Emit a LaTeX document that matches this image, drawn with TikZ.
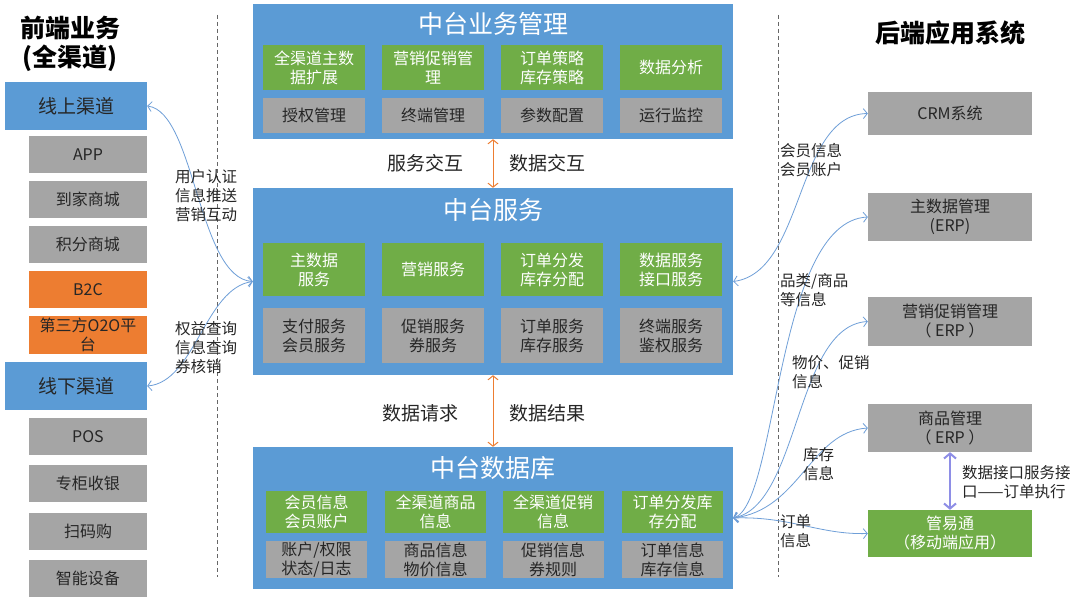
\documentclass[tikz,border=0pt]{standalone}
\usepackage{fontspec}
\setmainfont{Noto Sans CJK SC}
\usetikzlibrary{arrows.meta}
\definecolor{pblue}{HTML}{5B9BD5}
\definecolor{pgreen}{HTML}{70AD47}
\definecolor{pgray}{HTML}{A5A5A5}
\definecolor{porange}{HTML}{ED7D31}
\definecolor{ptext}{HTML}{262626}
\definecolor{pcurve}{HTML}{6F9FD8}
\definecolor{ppurple}{HTML}{8E8EE6}
\begin{document}
\begin{tikzpicture}[x=1pt,y=-1pt,
  >={Straight Barb[length=4pt,width=10pt]},
  box/.style={inner sep=0pt, align=center, font=\fontsize{16}{19}\selectfont},
  gbox/.style={box, fill=pgreen, text=white, minimum width=102, minimum height=#1},
  ybox/.style={box, fill=pgray, text=ptext, minimum width=102, minimum height=#1},
  lbox/.style={box, fill=pgray, text=ptext, minimum width=118, minimum height=37},
  obox/.style={box, fill=porange, text=ptext, minimum width=118, minimum height=37},
  chan/.style={box, fill=pblue, text=ptext, minimum width=142, minimum height=48, font=\fontsize{19}{22}\selectfont},
  rbox/.style={box, fill=pgray, text=ptext, minimum width=164, minimum height=#1},
  panel/.style={fill=pblue, inner sep=0pt, minimum width=480, minimum height=#1},
  ptitle/.style={text=white, inner sep=0pt, font=\fontsize{25}{28}\selectfont},
  htitle/.style={text=black, inner sep=0pt, align=center, font=\fontsize{25}{29}\selectfont\bfseries},
  clabel/.style={text=ptext, inner sep=0pt, align=left, anchor=west, font=\fontsize{15.5}{19}\selectfont},
  alabel/.style={text=ptext, inner sep=0pt, font=\fontsize{19}{22}\selectfont},
  bcurve/.style={draw=pcurve, line width=0.8pt, <->},
  oarrow/.style={draw=porange, line width=1pt, <->},
  parrow/.style={draw=ppurple, line width=2pt, <->, >={Straight Barb[length=5pt,width=12pt]}},
  divider/.style={draw=gray!80!black, line width=0.6pt, dash pattern=on 4pt off 3pt}
]
\useasboundingbox (0,0) rectangle (1080,602);
\fill[white] (0,0) rectangle (1080,602);

% dividers
\draw[divider] (217,15) -- (217,577);
\draw[divider] (778,15) -- (778,577);

% left column
\node[htitle] (lt) at (70,44) {前端业务\\(全渠道)};
\node[chan] (on) at (76,106) {线上渠道};
\node[lbox] (app) at (88,154.5) {APP};
\node[lbox] (djsc) at (88,199.5) {到家商城};
\node[lbox] (jfsc) at (88,244.5) {积分商城};
\node[obox] (b2c) at (88,289.5) {B2C};
\node[obox, minimum height=38] (o2o) at (88,335) {第三方O2O平\\台};
\node[chan] (off) at (76,386) {线下渠道};
\node[lbox] (pos) at (88,436.5) {POS};
\node[lbox] (zgsy) at (88,483.5) {专柜收银};
\node[lbox] (smg) at (88,531) {扫码购};
\node[lbox] (znsb) at (88,578.5) {智能设备};

% panel 1
\node[panel=135] (p1) at (493,71.5) {};
\node[ptitle] (t1) at (493,24) {中台业务管理};
\node[gbox=45] (a1) at (314,67.5) {全渠道主数\\据扩展};
\node[gbox=45] (a2) at (433,67.5) {营销促销管\\理};
\node[gbox=45] (a3) at (552,67.5) {订单策略\\库存策略};
\node[gbox=45] (a4) at (671,67.5) {数据分析};
\node[ybox=35] (b1) at (314,115.5) {授权管理};
\node[ybox=35] (b2) at (433,115.5) {终端管理};
\node[ybox=35] (b3) at (552,115.5) {参数配置};
\node[ybox=35] (b4) at (671,115.5) {运行监控};

% panel 2
\node[panel=187] (p2) at (493,281.5) {};
\node[ptitle] (t2) at (493,210) {中台服务};
\node[gbox=53] (c1) at (314,269.5) {主数据\\服务};
\node[gbox=53] (c2) at (433,269.5) {营销服务};
\node[gbox=53] (c3) at (552,269.5) {订单分发\\库存分配};
\node[gbox=53] (c4) at (671,269.5) {数据服务\\接口服务};
\node[ybox=55] (d1) at (314,335.5) {支付服务\\会员服务};
\node[ybox=55] (d2) at (433,335.5) {促销服务\\券服务};
\node[ybox=55] (d3) at (552,335.5) {订单服务\\库存服务};
\node[ybox=55] (d4) at (671,335.5) {终端服务\\鉴权服务};

% panel 3
\node[panel=142] (p3) at (493,518) {};
\node[ptitle] (t3) at (493,468) {中台数据库};
\node[gbox=42, minimum width=101] (e1) at (316.5,512) {会员信息\\会员账户};
\node[gbox=42, minimum width=101] (e2) at (435.5,512) {全渠道商品\\信息};
\node[gbox=42, minimum width=101] (e3) at (553,512) {全渠道促销\\信息};
\node[gbox=42, minimum width=101] (e4) at (672.5,512) {订单分发库\\存分配};
\node[ybox=37, minimum width=101] (f1) at (316.5,559.5) {账户/权限\\状态/日志};
\node[ybox=37, minimum width=101] (f2) at (435.5,559.5) {商品信息\\物价信息};
\node[ybox=37, minimum width=101] (f3) at (553,559.5) {促销信息\\券规则};
\node[ybox=37, minimum width=101] (f4) at (672.5,559.5) {订单信息\\库存信息};

% vertical arrows
\draw[oarrow] (p1.south) -- (p2.north);
\draw[oarrow] (p2.south) -- (p3.north);
\node[alabel] (l1) at (425,163) {服务交互};
\node[alabel] (l2) at (547,163) {数据交互};
\node[alabel] (l3) at (420,413) {数据请求};
\node[alabel] (l4) at (547,413) {数据结果};

% right column
\node[htitle] (rt) at (950,33) {后端应用系统};
\node[rbox=43] (crm) at (950,113.5) {CRM系统};
\node[rbox=48] (mdm) at (950,217) {主数据管理\\(ERP)};
\node[rbox=49] (yx) at (950,321.5) {营销促销管理\\（ ERP ）};
\node[rbox=48] (sp) at (950,428) {商品管理\\（ ERP ）};
\node[rbox=47, fill=pgreen, text=white] (gyt) at (950,533.5) {管易通\\（移动端应用）};
\draw[parrow] (sp.south) -- (gyt.north);
\node[clabel] (l5) at (962,482) {数据接口服务接\\口——订单执行};

% left curves
\draw[bcurve] (on.east) .. controls (195,112) and (198,278) .. (p2.west);
\draw[bcurve] (off.east) .. controls (195,382) and (205,288) .. (p2.west);
\node[clabel] (l6) at (175,196) {用户认证\\信息推送\\营销互动};
\node[clabel] (l7) at (175,348) {权益查询\\信息查询\\券核销};

% right curves
\draw[bcurve] (p2.east) .. controls (805,272) and (795,115) .. (crm.west);
\draw[bcurve] (p3.east) .. controls (778,505) and (775,222) .. (mdm.west);
\draw[bcurve] (p3.east) .. controls (800,505) and (795,326) .. (yx.west);
\draw[bcurve] (p3.east) .. controls (800,510) and (810,432) .. (sp.west);
\draw[bcurve] (p3.east) .. controls (790,516) and (820,535) .. (gyt.west);
\node[clabel] (l8) at (780,160.5) {会员信息\\会员账户};
\node[clabel] (l9) at (780,290) {品类/商品\\等信息};
\node[clabel] (l10) at (792,372) {物价、促销\\信息};
\node[clabel] (l11) at (803,464) {库存\\信息};
\node[clabel] (l12) at (780,531) {订单\\信息};
\end{tikzpicture}
\end{document}
